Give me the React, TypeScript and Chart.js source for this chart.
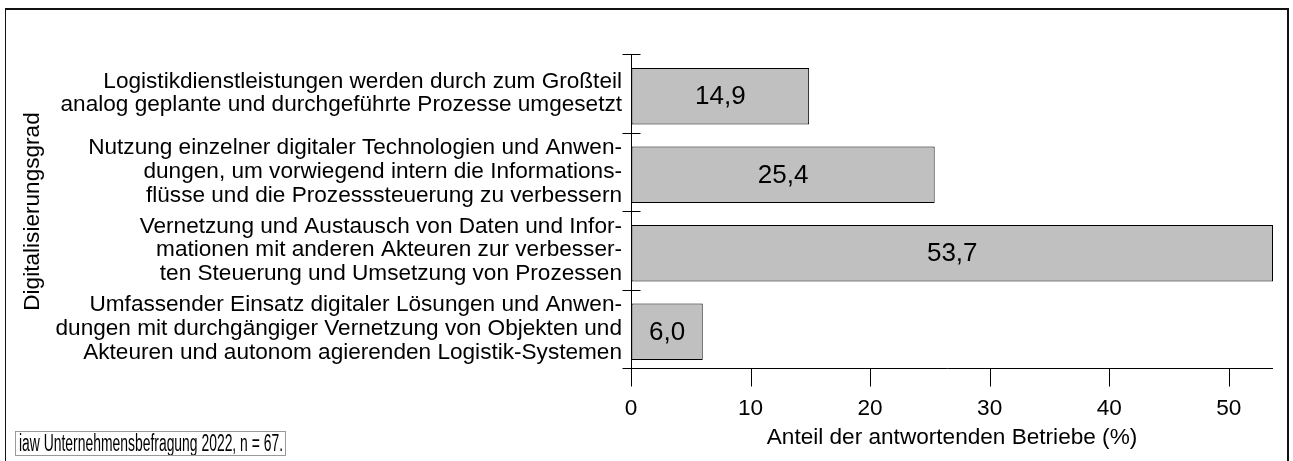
import React, { useEffect, useRef } from 'react';
import { Chart, registerables } from 'chart.js';

Chart.register(...registerables);

const FONT = '"Liberation Sans", Arial, Helvetica, sans-serif';

const categories: string[][] = [
  ['Logistikdienstleistungen werden durch zum Großteil', 'analog geplante und durchgeführte Prozesse umgesetzt'],
  ['Nutzung einzelner digitaler Technologien und Anwen-', 'dungen, um vorwiegend intern die Informations-', 'flüsse und die Prozesssteuerung zu verbessern'],
  ['Vernetzung und Austausch von Daten und Infor-', 'mationen mit anderen Akteuren zur verbesser-', 'ten Steuerung und Umsetzung von Prozessen'],
  ['Umfassender Einsatz digitaler Lösungen und Anwen-', 'dungen mit durchgängiger Vernetzung von Objekten und', 'Akteuren und autonom agierenden Logistik-Systemen'],
];
const values: number[] = [14.9, 25.4, 53.7, 6.0];
const xTickValues: number[] = [0, 10, 20, 30, 40, 50];
const xMax = 53.7;
const xTitle = 'Anteil der antwortenden Betriebe (%)';
const yTitle = 'Digitalisierungsgrad';
const note = 'iaw Unternehmensbefragung 2022, n = 67.';

const W = 1293;
const H = 461;
const FS = 22.6;
const TEXT = '#000';

export default function App() {
  const ref = useRef<HTMLCanvasElement>(null);

  useEffect(() => {
    const canvas = ref.current;
    if (!canvas) return;
    const SHIFT = 3;

    const overlay = {
      id: 'overlay',
      afterDatasetsDraw(chart: any) {
        const { ctx } = chart;
        const meta = chart.getDatasetMeta(0);
        ctx.save();
        ctx.fillStyle = TEXT;
        ctx.font = `26px ${FONT}`;
        ctx.textAlign = 'center';
        ctx.textBaseline = 'middle';
        meta.data.forEach((el: any, i: number) => {
          const cx = (el.x + el.base) / 2;
          ctx.fillText(values[i].toFixed(1).replace('.', ','), cx, el.y + 1);
        });
        ctx.restore();
      },
      afterDraw(chart: any) {
        const { ctx, chartArea: a, scales } = chart;
        const xs = scales.x;
        const ys = scales.y;
        ctx.save();
        // outer frame
        ctx.fillStyle = '#111';
        ctx.fillRect(5, 8, 1, H - 8);
        ctx.fillRect(5, 8, 1289 - 5, 2);
        ctx.fillRect(1287, 8, 2, H - 8);

        ctx.strokeStyle = '#000';
        ctx.lineWidth = 1;
        const axisX = Math.round(a.left) + 0.5;
        const axisY = Math.round(a.bottom - SHIFT) + 0.5;
        const topY = Math.round(ys.getPixelForValue(-0.5) - SHIFT) + 0.5;
        ctx.beginPath();
        ctx.moveTo(axisX, topY);
        ctx.lineTo(axisX, axisY);
        for (let i = 0; i < categories.length; i++) {
          const y = Math.round(ys.getPixelForValue(i - 0.5) - SHIFT) + 0.5;
          ctx.moveTo(axisX - 9, y);
          ctx.lineTo(axisX + 9, y);
        }
        ctx.moveTo(axisX - 9, axisY);
        ctx.lineTo(Math.round(a.right), axisY);
        xTickValues.forEach((v) => {
          const x = Math.round(xs.getPixelForValue(v)) + 0.5;
          ctx.moveTo(x, axisY);
          ctx.lineTo(x, axisY + 18);
        });
        ctx.stroke();

        // y axis title
        ctx.save();
        ctx.fillStyle = TEXT;
        ctx.font = `${FS}px ${FONT}`;
        ctx.textAlign = 'center';
        ctx.textBaseline = 'middle';
        ctx.translate(33, (topY + axisY) / 2);
        ctx.rotate(-Math.PI / 2);
        ctx.fillText(yTitle, 0, 0);
        ctx.restore();

        // source note (condensed)
        ctx.font = `23px ${FONT}`;
        ctx.fillStyle = TEXT;
        ctx.textAlign = 'left';
        ctx.textBaseline = 'alphabetic';
        const tw = ctx.measureText(note).width;
        const sx = 264 / tw;
        ctx.save();
        ctx.translate(19, 451);
        ctx.scale(sx, 1);
        ctx.fillText(note, 0, 0);
        ctx.restore();
        ctx.strokeStyle = '#999';
        ctx.strokeRect(15.5, 431.5, 270, 24);
        ctx.restore();
      },
    };

    const chart = new Chart(canvas, {
      type: 'bar',
      data: {
        labels: categories,
        datasets: [
          {
            data: values,
            backgroundColor: '#c0c0c0',
            borderColor: '#000',
            borderWidth: 1,
            borderSkipped: false,
            barPercentage: 0.72,
            categoryPercentage: 1,
          },
        ],
      },
      options: {
        indexAxis: 'y',
        animation: false,
        responsive: false,
        devicePixelRatio: 1,
        layout: { padding: { left: 10, right: 20, top: 57, bottom: 0 } },
        plugins: { legend: { display: false }, tooltip: { enabled: false }, title: { display: false } },
        scales: {
          x: {
            type: 'linear',
            min: 0,
            max: xMax,
            afterBuildTicks: (scale: any) => {
              scale.ticks = xTickValues.map((v) => ({ value: v }));
            },
            afterFit: (scale: any) => {
              scale.height = H - 371;
            },
            grid: { display: true, drawOnChartArea: false, drawTicks: true, tickLength: 18, color: 'rgba(0,0,0,0)' },
            border: { display: false },
            ticks: { color: TEXT, font: { size: FS, family: FONT }, padding: 6, maxRotation: 0, autoSkip: false },
            title: { display: true, text: xTitle, color: TEXT, font: { size: FS, family: FONT }, padding: { top: 0, bottom: 10 } },
          },
          y: {
            type: 'category',
            offset: true,
            afterFit: (scale: any) => {
              scale.width = 621;
            },
            grid: { display: true, drawOnChartArea: false, drawTicks: true, tickLength: 9, color: 'rgba(0,0,0,0)' },
            border: { display: false },
            ticks: { color: TEXT, font: { size: FS, family: FONT, lineHeight: 1.055 }, padding: 0, autoSkip: false, crossAlign: 'near', labelOffset: -3 },
            title: { display: false },
          },
        },
      },
      plugins: [overlay],
    } as any);

    return () => chart.destroy();
  }, []);

  return (
    <div style={{ position: 'absolute', left: 0, top: 0, width: W, height: H, background: '#fff' }}>
      <canvas ref={ref} width={W} height={H} style={{ width: W, height: H, display: 'block' }} />
    </div>
  );
}
